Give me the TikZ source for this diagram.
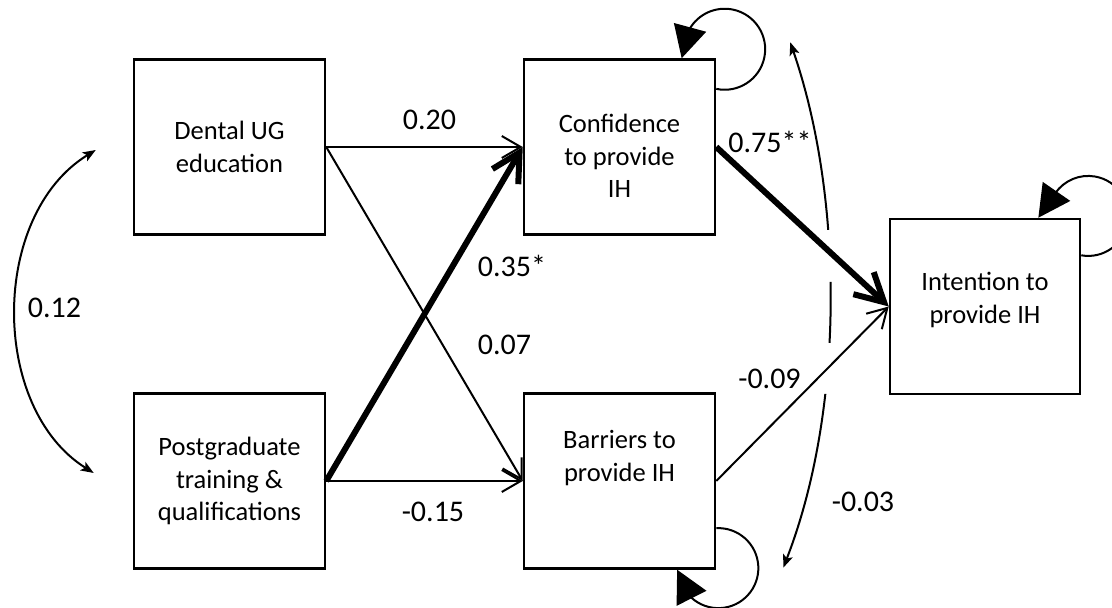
\documentclass[tikz,border=0pt]{standalone}
\usepackage{fontspec}
\setmainfont{Carlito}
\usetikzlibrary{arrows.meta}
\tikzset{
	box/.style={draw, line width=2.5pt, minimum width=191pt, minimum height=175pt, inner sep=0pt, align=center, font=\fontsize{26.5}{32.5}\selectfont},
	coef/.style={inner sep=0pt, font=\fontsize{30}{36}\selectfont},
	thinarr/.style={line width=2pt, -{Straight Barb[length=19pt,width=22pt]}},
	thickarr/.style={line width=6pt, -{Straight Barb[length=28pt,width=30pt]}},
	selfloop/.style={line width=2pt, -{Triangle[length=32pt,width=33pt]}},
	covarr/.style={line width=2pt, {Stealth[length=13pt,width=10pt,inset=3pt]}-{Stealth[length=13pt,width=10pt,inset=3pt]}}
}
\begin{document}
\begin{tikzpicture}[x=1pt,y=1pt]
	\useasboundingbox[fill=white] (0,0) rectangle (1112,608);
	\node[box] (dental) at (229.5,461) {Dental UG\\education};
	\node[box] (post) at (229.5,127) {Postgraduate\\training \&\\qualifications};
	\node[box, text height=102pt] (conf) at (619.5,461) {Confidence\\to provide\\IH};
	\node[box, text depth=50pt] (barr) at (619.5,127) {Barriers to\\provide IH};
	\node[box, minimum width=190pt, text depth=17pt] (intent) at (985,301.5) {Intention to\\provide IH};
	\draw[thinarr] (dental.east) -- (conf.west);
	\draw[thinarr] (dental.east) -- (barr.west);
	\draw[thinarr] (post.east) -- (barr.west);
	\draw[thickarr] (post.east) -- (conf.west);
	\draw[thickarr] (conf.east) -- (intent.west);
	\draw[thinarr] (barr.east) -- (intent.west);
	\draw[selfloop] (conf.31) arc[start angle=-102, end angle=150, radius=40.5] -- (conf.55);
	\draw[selfloop] (barr.-26.7) arc[start angle=93, end angle=-133, radius=40] -- (barr.-57.5);
	\draw[selfloop] (intent.28.9) arc[start angle=-100, end angle=145, radius=40] -- (intent.59.3);
	\coordinate (ltop) at ([shift={(-37,-3)}]dental.west);
	\coordinate (lbot) at ([shift={(-39,8)}]post.west);
	\draw[covarr] (ltop) .. controls +(-106,-65) and +(-104,65) .. (lbot);
	\coordinate (rtop) at ([shift={(74,16)}]conf.north east);
	\coordinate (rbot) at ([shift={(67,2)}]barr.south east);
	\begin{scope}
		\clip (760,608) rectangle (880,378) (760,326) rectangle (880,265) (760,214) rectangle (880,0);
		\draw[covarr] (rtop) .. controls +(54,-157) and +(61,157) .. (rbot);
	\end{scope}
	\node[coef] (b20) at (429.5,488) {0.20};
	\node[coef] (b35) at (512,342) {0.35*};
	\node[coef] (b07) at (504.5,263.5) {0.07};
	\node[coef] (b15) at (433,96) {-0.15};
	\node[coef] (r12) at (54.5,300.5) {0.12};
	\node[coef] (b75) at (770,466.5) {0.75**};
	\node[coef] (b09) at (769.5,229.5) {-0.09};
	\node[coef] (r03) at (863,106.5) {-0.03};
\end{tikzpicture}
\end{document}
